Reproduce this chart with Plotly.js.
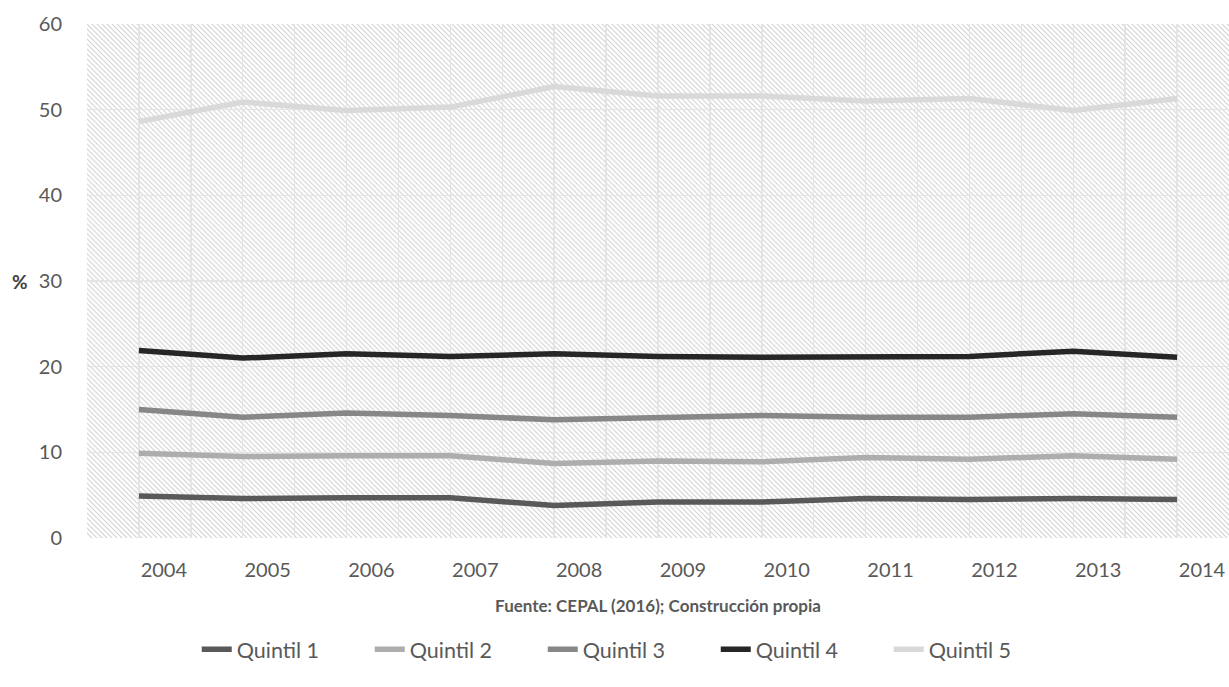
<!DOCTYPE html>
<html>
<head>
<meta charset="utf-8">
<script src="https://cdn.plot.ly/plotly-3.0.1.min.js"></script>
<style>
  html, body { margin: 0; padding: 0; background: #ffffff; overflow: hidden; }
  #chart { width: 1229px; height: 687px; }
</style>
</head>
<body>
<div id="chart"></div>
<script>
// ---- data ----
const years = [2004, 2005, 2006, 2007, 2008, 2009, 2010, 2011, 2012, 2013, 2014];
const seriesNames = ["Quintil 1", "Quintil 2", "Quintil 3", "Quintil 4", "Quintil 5"];
const quintil1 = [4.9, 4.6, 4.7, 4.7, 3.8, 4.2, 4.2, 4.6, 4.5, 4.6, 4.5];
const quintil2 = [9.9, 9.5, 9.6, 9.6, 8.7, 9.0, 8.9, 9.4, 9.2, 9.6, 9.2];
const quintil3 = [15.0, 14.1, 14.6, 14.3, 13.8, 14.1, 14.3, 14.1, 14.1, 14.5, 14.1];
const quintil4 = [21.9, 21.0, 21.5, 21.2, 21.5, 21.2, 21.1, 21.1, 21.2, 21.8, 21.1];
const quintil5 = [48.6, 50.9, 49.9, 50.3, 52.7, 51.6, 51.6, 51.0, 51.3, 49.9, 51.3];
const yTicks = [0, 10, 20, 30, 40, 50, 60];
const xTitle = "Fuente: CEPAL (2016); Construcción propia";
const yTitle = "%";

// ---- styles ----
const colors = ["#595959", "#adadad", "#878787", "#262626", "#d9d9d9"];
const allSeries = [quintil1, quintil2, quintil3, quintil4, quintil5];
const FONT = "Lato, 'Open Sans', sans-serif";

const traces = allSeries.map((vals, i) => ({
  type: "scatter",
  mode: "lines",
  name: seriesNames[i],
  x: years,
  y: vals,
  xaxis: "x",
  yaxis: "y",
  line: { color: colors[i], width: 5.5 },
  hoverinfo: "x+y+name"
}));

// hatch background as SVG pattern image
const plotW = 1142, plotH = 515;
const svg =
  '<svg xmlns="http://www.w3.org/2000/svg" width="' + plotW + '" height="' + plotH + '">' +
  '<defs><pattern id="h" patternUnits="userSpaceOnUse" width="5" height="5">' +
  '<path d="M-1,-1 L6,6 M-1,4 L1,6 M4,-1 L6,1" stroke="#d2d2d2" stroke-width="1.1"/>' +
  '</pattern></defs>' +
  '<rect width="100%" height="100%" fill="#ffffff"/>' +
  '<rect width="100%" height="100%" fill="url(#h)"/></svg>';
const svgUri = "data:image/svg+xml;charset=utf-8," + encodeURIComponent(svg);

const xMin = years[0] - 0.5, xMax = years[years.length - 1] + 0.5;

const layout = {
  width: 1229,
  height: 687,
  margin: { l: 87, r: 0, t: 24, b: 149 },
  paper_bgcolor: "#ffffff",
  plot_bgcolor: "rgba(0,0,0,0)",
  font: { family: FONT, color: "#595959" },
  showlegend: true,
  legend: {
    orientation: "h",
    x: 0.512, xref: "container", xanchor: "center",
    y: 0.055, yref: "container", yanchor: "middle",
    font: { size: 21.5, color: "#595959", family: FONT },
    entrywidth: 128,
    entrywidthmode: "pixels",
    tracegroupgap: 0
  },
  xaxis: {
    range: [xMin, xMax],
    tickmode: "linear",
    tick0: xMin,
    dtick: 0.5,
    showticklabels: false,
    showgrid: true,
    gridcolor: "#e4e4e4",
    gridwidth: 1.5,
    zeroline: false,
    showline: false,
    ticks: "",
    fixedrange: true
  },
  xaxis2: {
    overlaying: "x",
    anchor: "y",
    side: "bottom",
    range: [xMin, xMax],
    tickmode: "array",
    tickvals: years.map(v => v + 0.24),
    ticktext: years.map(String),
    tickfont: { size: 20, color: "#595959", family: FONT },
    ticks: "outside",
    ticklen: 14,
    tickcolor: "rgba(0,0,0,0)",
    showgrid: false,
    zeroline: false,
    showline: false,
    title: {
      text: "<b>" + xTitle + "</b>",
      font: { size: 17, color: "#595959", family: FONT },
      standoff: 20
    },
    fixedrange: true
  },
  yaxis: {
    range: [0, 60],
    tickmode: "array",
    tickvals: yTicks,
    ticktext: yTicks.map(String),
    tickfont: { size: 20, color: "#595959", family: FONT },
    ticks: "outside",
    ticklen: 20,
    tickcolor: "rgba(0,0,0,0)",
    showgrid: true,
    gridcolor: "#e4e4e4",
    gridwidth: 1.5,
    zeroline: false,
    showline: false,
    fixedrange: true
  },
  images: [{
    source: svgUri,
    xref: "paper", yref: "paper",
    x: 0, y: 1, sizex: 1, sizey: 1,
    xanchor: "left", yanchor: "top",
    sizing: "stretch",
    layer: "below"
  }],
  annotations: [{
    text: "<b>" + yTitle + "</b>",
    xref: "paper", yref: "paper",
    x: -0.059, y: 0.5,
    xanchor: "center", yanchor: "middle",
    showarrow: false,
    font: { size: 19, color: "#404040", family: FONT }
  }]
};

// empty helper trace so the label axis (xaxis2) is drawn; it has no visible marks
traces.push({
  type: "scatter", mode: "none", x: [xMin], y: [0],
  xaxis: "x2", yaxis: "y", showlegend: false, hoverinfo: "skip"
});

Plotly.newPlot("chart", traces, layout, { displayModeBar: false, staticPlot: true });
</script>
</body>
</html>
